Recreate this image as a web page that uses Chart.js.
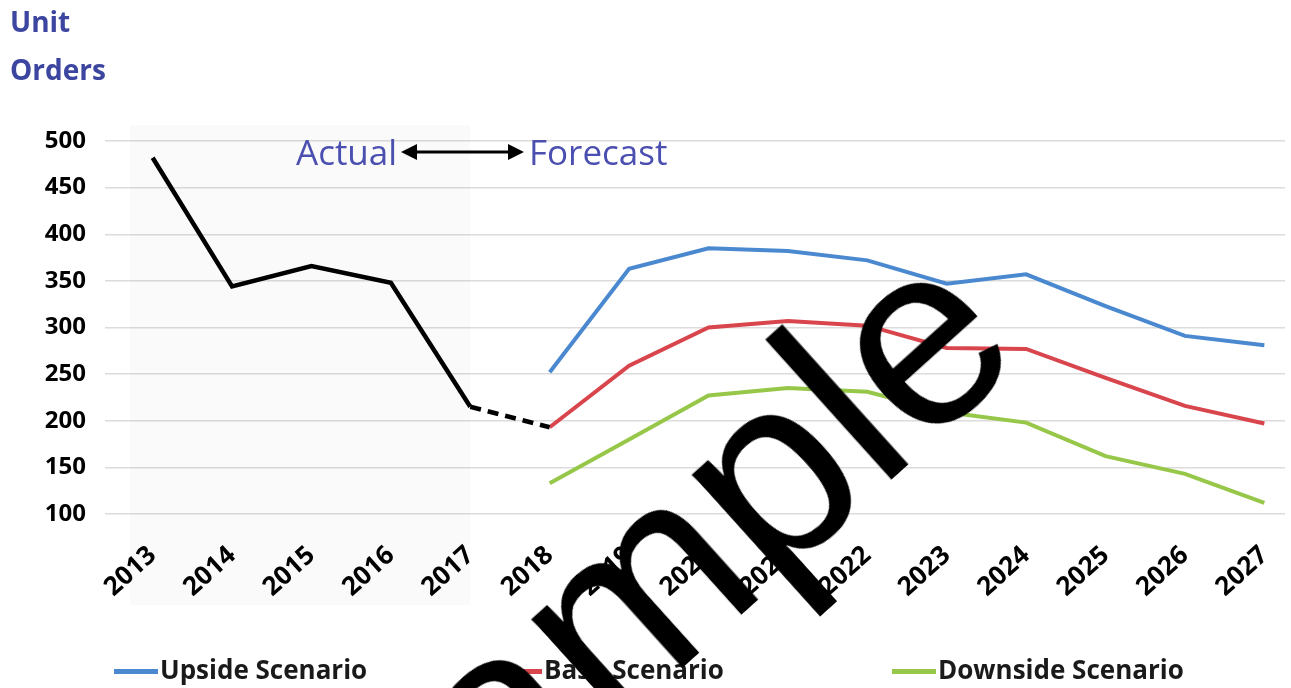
<!DOCTYPE html>
<html>
<head>
<meta charset="utf-8">
<script src="https://cdn.jsdelivr.net/npm/chart.js@4/dist/chart.umd.min.js"></script>
<style>
	body { margin: 0; background: #fff; }
	#wrap { position: relative; width: 1291px; height: 688px; overflow: hidden; }
	#chart { position: absolute; left: 0; top: 0; }
	.title { position: absolute; left: 10px; top: -3px; font: bold 28px "Open Sans", sans-serif; color: #3c46a0; line-height: 48px; }
	.note { position: absolute; top: 132px; font: 35px "Open Sans", sans-serif; color: #4a4fb0; line-height: 40px; }
	.mark { position: absolute; left: 641px; top: 584px; transform: translate(-50%, -50%) rotate(-42deg); font: 260px "Liberation Sans", Arial, sans-serif; line-height: 1; color: #000; white-space: nowrap; }
	.leg { position: absolute; top: 652px; height: 34px; font: bold 26px "Open Sans", sans-serif; color: #1a1a1a; line-height: 34px; white-space: nowrap; }
	.leg i { position: absolute; left: -46px; top: 17px; width: 44px; height: 5px; }
</style>
</head>
<body>
<div id="wrap">
	<canvas id="chart" width="1291" height="688"></canvas>
	<div class="title">Unit<br>Orders</div>
	<div class="note" style="left:296px">Actual</div>
	<div class="note" style="left:529px">Forecast</div>
	<div id="legend"></div>
	<div class="mark">Sample</div>
</div>
<script>
// Unit orders: actual history and three forecast scenarios
const years = [2013, 2014, 2015, 2016, 2017, 2018, 2019, 2020, 2021, 2022, 2023, 2024, 2025, 2026, 2027];
const yTicks = [100, 150, 200, 250, 300, 350, 400, 450, 500];

const actual = [482, 344, 366, 348, 215, 193];                         // 2013-2018
const upside = [252, 363, 385, 382, 372, 347, 357, 323, 291, 281];     // 2018-2027
const base = [193, 259, 300, 307, 302, 278, 277, 246, 216, 197];
const downside = [133, 180, 227, 235, 231, 209, 198, 162, 143, 112];

const scenarioNames = ["Upside Scenario", "Base Scenario", "Downside Scenario"];
const scenarioColors = ["#4a89cf", "#d9454c", "#96c748"];
const legendLeft = [160, 544, 938];

const forecastYears = years.slice(5);
const pts = (xs, ys) => ys.map((v, i) => ({ x: xs[i], y: v }));

// legend (spaced out like the original, so built by hand)
document.getElementById("legend").innerHTML = scenarioNames
	.map((n, i) => `<div class="leg" style="left:${legendLeft[i]}px"><i style="background:${scenarioColors[i]}"></i>${n}</div>`)
	.join("");

// faint shading behind the actual period, plus the Actual <-> Forecast arrow
const decor = {
	id: "decor",
	beforeDatasetsDraw(chart) {
		const { ctx, chartArea, scales } = chart;
		ctx.save();
		ctx.fillStyle = "rgba(0,0,0,0.018)";
		const right = scales.x.getPixelForValue(2017);
		ctx.fillRect(chartArea.left + 25, 125, right - chartArea.left - 25, 480);
		ctx.restore();
	},
	afterDraw(chart) {
		const ctx = chart.ctx;
		const y = 152, x1 = 401, x2 = 524;
		ctx.save();
		ctx.strokeStyle = "#000";
		ctx.fillStyle = "#000";
		ctx.lineWidth = 3;
		ctx.beginPath();
		ctx.moveTo(x1 + 10, y);
		ctx.lineTo(x2 - 10, y);
		ctx.stroke();
		ctx.beginPath();
		ctx.moveTo(x1, y);
		ctx.lineTo(x1 + 16, y - 8);
		ctx.lineTo(x1 + 16, y + 8);
		ctx.closePath();
		ctx.fill();
		ctx.beginPath();
		ctx.moveTo(x2, y);
		ctx.lineTo(x2 - 16, y - 8);
		ctx.lineTo(x2 - 16, y + 8);
		ctx.closePath();
		ctx.fill();
		ctx.restore();
	},
};

new Chart(document.getElementById("chart"), {
	type: "line",
	data: {
		datasets: [
			{
				label: "Actual",
				data: pts(years, actual),
				borderColor: "#000",
				borderWidth: 4.5,
				segment: { borderDash: (c) => (c.p0DataIndex === 4 ? [11, 7] : undefined) },
			},
			{ label: scenarioNames[0], data: pts(forecastYears, upside), borderColor: scenarioColors[0], borderWidth: 4 },
			{ label: scenarioNames[1], data: pts(forecastYears, base), borderColor: scenarioColors[1], borderWidth: 4 },
			{ label: scenarioNames[2], data: pts(forecastYears, downside), borderColor: scenarioColors[2], borderWidth: 4 },
		],
	},
	options: {
		responsive: false,
		animation: false,
		elements: { point: { radius: 0 }, line: { tension: 0 } },
		layout: { padding: { top: 141, right: 6, left: 0, bottom: 0 } },
		scales: {
			x: {
				type: "linear",
				min: 2012.4,
				max: 2027.26,
				grid: { display: false },
				border: { display: false },
				afterBuildTicks: (s) => { s.ticks = years.map((v) => ({ value: v })); },
				afterFit: (s) => {
					s.height = 174;
					s.paddingLeft = 0;
					s.paddingRight = 0;
				},
				ticks: {
					font: { family: "'Open Sans', sans-serif", size: 26, weight: "bold" },
					color: "#000",
					minRotation: 42,
					maxRotation: 42,
					padding: 18,
					callback: (v) => String(v),
				},
			},
			y: {
				min: 100,
				max: 500,
				afterBuildTicks: (s) => { s.ticks = yTicks.map((v) => ({ value: v })); },
				afterFit: (s) => { s.width = 105; },
				grid: { color: "#dcdcdc", lineWidth: 1.5, drawTicks: false },
				border: { display: false },
				ticks: { font: { family: "'Open Sans', sans-serif", size: 24, weight: "bold" }, color: "#000", padding: 19 },
			},
		},
		plugins: {
			tooltip: { enabled: false },
			legend: { display: false },
		},
	},
	plugins: [decor],
});
</script>
</body>
</html>
